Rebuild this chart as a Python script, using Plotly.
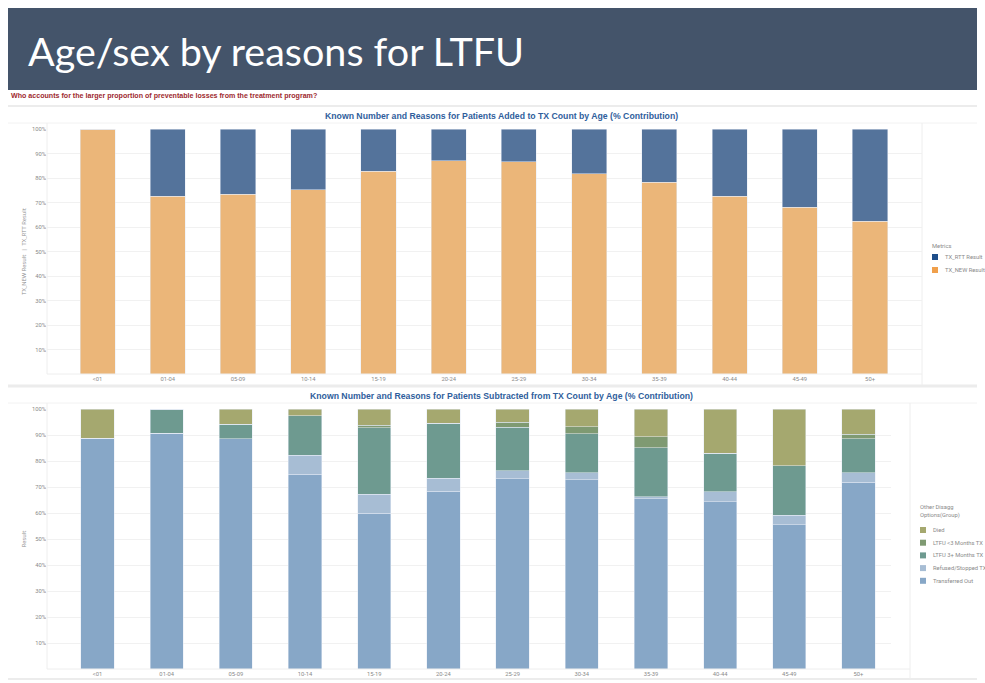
import plotly.graph_objects as go

W, H = 985, 683

ages = ["<01", "01-04", "05-09", "10-14", "15-19", "20-24", "25-29", "30-34", "35-39", "40-44", "45-49", "50+"]

# Top chart (% contribution)
tx_new = [100, 72.5, 73.3, 75.3, 82.7, 87.1, 86.7, 81.8, 78.2, 72.5, 68.0, 62.3]
tx_rtt = [0, 27.5, 26.7, 24.7, 17.3, 12.9, 13.3, 18.2, 21.8, 27.5, 32.0, 37.7]

# Bottom chart (% contribution)
transferred_out = [88.7, 90.6, 88.5, 75.0, 60.0, 68.3, 73.1, 72.7, 65.4, 64.3, 55.4, 71.8]
refused_stopped = [0, 0, 0, 7.3, 7.2, 5.0, 3.1, 2.8, 0.9, 3.9, 3.8, 3.7]
ltfu_3plus = [0, 9.4, 5.7, 15.1, 25.6, 21.2, 16.8, 14.9, 18.8, 14.8, 19.0, 13.0]
ltfu_lt3 = [0, 0, 0, 0, 1.0, 0, 1.9, 2.8, 4.2, 0, 0, 1.8]
died = [11.3, 0, 5.8, 2.6, 6.2, 5.5, 5.1, 6.8, 10.7, 17.0, 21.8, 9.7]

top_title = "Known Number and Reasons for Patients Added to TX Count by Age (% Contribution)"
bot_title = "Known Number and Reasons for Patients Subtracted from TX Count by Age (% Contribution)"
y_ticks = [10, 20, 30, 40, 50, 60, 70, 80, 90, 100]
y_labels = [f"{v}%" for v in y_ticks]

top_series = [("TX_NEW Result", tx_new, "#ebb679"), ("TX_RTT Result", tx_rtt, "#54739b")]
bot_series = [("Transferred Out", transferred_out, "#87a7c7"),
              ("Refused/Stopped TX", refused_stopped, "#a7bdd4"),
              ("LTFU 3+ Months TX", ltfu_3plus, "#6e9a90"),
              ("LTFU <3 Months TX", ltfu_lt3, "#7f9a72"),
              ("Died", died, "#a5a86f")]
top_legend_colors = {"TX_RTT Result": "#1f4e8a", "TX_NEW Result": "#f0a04b"}


def px(x):
    return x / W


def py(y):
    return 1 - y / H


fig = go.Figure()

for nm, vals, col in top_series:
    fig.add_bar(x=ages, y=vals, name=nm, marker_color=col, width=0.5, xaxis="x", yaxis="y")
for nm, vals, col in bot_series:
    fig.add_bar(x=ages, y=vals, name=nm, marker_color=col, width=0.48, xaxis="x2", yaxis="y2")

tick_font = dict(family="Roboto, Arial", size=5.8, color="#8a8a8a")
gray = "#8a8a8a"

shapes = [
    dict(type="rect", xref="paper", yref="paper", x0=px(8), x1=px(977), y0=py(90), y1=py(8),
         fillcolor="#44546a", line=dict(width=0), layer="below"),
]
for y0, c, w in [(106, "#ececec", 2), (123, "#f2f2f2", 1), (386, "#ececec", 3), (403, "#f2f2f2", 1), (679, "#ececec", 2)]:
    shapes.append(dict(type="line", xref="paper", yref="paper", x0=px(8), x1=px(977), y0=py(y0), y1=py(y0),
                       line=dict(color=c, width=w)))
for x0, x1, y0, y1 in [(47, 47, 374, 123), (47, 922, 374, 374), (922, 922, 385, 123),
                       (47, 47, 669, 403), (47, 910, 669, 669), (910, 910, 679, 403)]:
    shapes.append(dict(type="line", xref="paper", yref="paper", x0=px(x0), x1=px(x1), y0=py(y0), y1=py(y1),
                       line=dict(color="#eeeeee", width=1)))

annotations = [
    dict(text="Age/sex by reasons for LTFU", xref="paper", yref="paper", x=px(26), y=py(50),
         xanchor="left", yanchor="middle", showarrow=False,
         font=dict(family="Lato, Open Sans, sans-serif", size=39.5, color="white")),
    dict(text="<b>Who accounts for the larger proportion of preventable losses from the treatment program?</b>",
         xref="paper", yref="paper", x=px(9), y=py(96), xanchor="left", yanchor="middle", showarrow=False,
         font=dict(family="Arial, Liberation Sans", size=7.1, color="#9e2a2f")),
    dict(text=f"<b>{top_title}</b>", xref="paper", yref="paper", x=px(501), y=py(116),
         xanchor="center", yanchor="middle", showarrow=False,
         font=dict(family="Arial, Liberation Sans", size=8.7, color="#2f5e9c")),
    dict(text=f"<b>{bot_title}</b>", xref="paper", yref="paper", x=px(501), y=py(396),
         xanchor="center", yanchor="middle", showarrow=False,
         font=dict(family="Arial, Liberation Sans", size=8.7, color="#2f5e9c")),
]

# Legend 1 (Metrics)
leg_font = dict(family="Roboto, Arial", size=5.8, color=gray)
annotations.append(dict(text="Metrics", xref="paper", yref="paper", x=px(930), y=py(246),
                        xanchor="left", yanchor="middle", showarrow=False, font=leg_font))
for i, (nm, _, col) in enumerate(reversed(top_series)):
    yc = 257 + i * 13
    shapes.append(dict(type="rect", xref="paper", yref="paper", x0=px(932), x1=px(938), y0=py(yc + 3), y1=py(yc - 3),
                       fillcolor=top_legend_colors[nm], line=dict(width=0)))
    annotations.append(dict(text=nm, xref="paper", yref="paper", x=px(943), y=py(yc),
                            xanchor="left", yanchor="middle", showarrow=False, font=leg_font))

# Legend 2 (Other Disagg Options)
annotations.append(dict(text="Other Disagg<br>Options(Group)", xref="paper", yref="paper", x=px(918), y=py(511),
                        xanchor="left", yanchor="middle", showarrow=False, align="left", font=leg_font))
for i, (nm, _, col) in enumerate(reversed(bot_series)):
    yc = 530 + i * 12.7
    shapes.append(dict(type="rect", xref="paper", yref="paper", x0=px(920), x1=px(926), y0=py(yc + 3), y1=py(yc - 3),
                       fillcolor=col, line=dict(width=0)))
    annotations.append(dict(text=nm, xref="paper", yref="paper", x=px(931), y=py(yc),
                            xanchor="left", yanchor="middle", showarrow=False, font=leg_font))

fig.update_layout(
    width=W, height=H, margin=dict(l=0, r=0, t=0, b=0, autoexpand=False),
    paper_bgcolor="white", plot_bgcolor="white",
    barmode="stack", showlegend=False,
    xaxis=dict(domain=[px(47), px(922)], range=[-0.72, 11.74], type="category", anchor="y",
               tickfont=tick_font, showgrid=False, ticks="", showline=False),
    yaxis=dict(domain=[py(374), py(129)], range=[0, 100], tickvals=y_ticks, ticktext=y_labels, anchor="x",
               tickfont=tick_font, showgrid=True, gridcolor="#f1f1f1", zeroline=False,
               title=dict(text="TX_NEW Result  |  TX_RTT Result", font=dict(size=5.8, color=gray), standoff=4)),
    xaxis2=dict(domain=[px(47), px(891)], range=[-0.73, 11.47], type="category", anchor="y2",
                tickfont=tick_font, showgrid=False, ticks="", showline=False),
    yaxis2=dict(domain=[py(669), py(409)], range=[0, 100], tickvals=y_ticks, ticktext=y_labels, anchor="x2",
                tickfont=tick_font, showgrid=True, gridcolor="#f1f1f1", zeroline=False,
                title=dict(text="Result", font=dict(size=5.8, color=gray), standoff=4)),
    shapes=shapes,
    annotations=annotations,
)

fig.write_html("out.html", config={"displayModeBar": False},
               post_script="document.body.style.margin='0';document.body.style.overflow='hidden';")
